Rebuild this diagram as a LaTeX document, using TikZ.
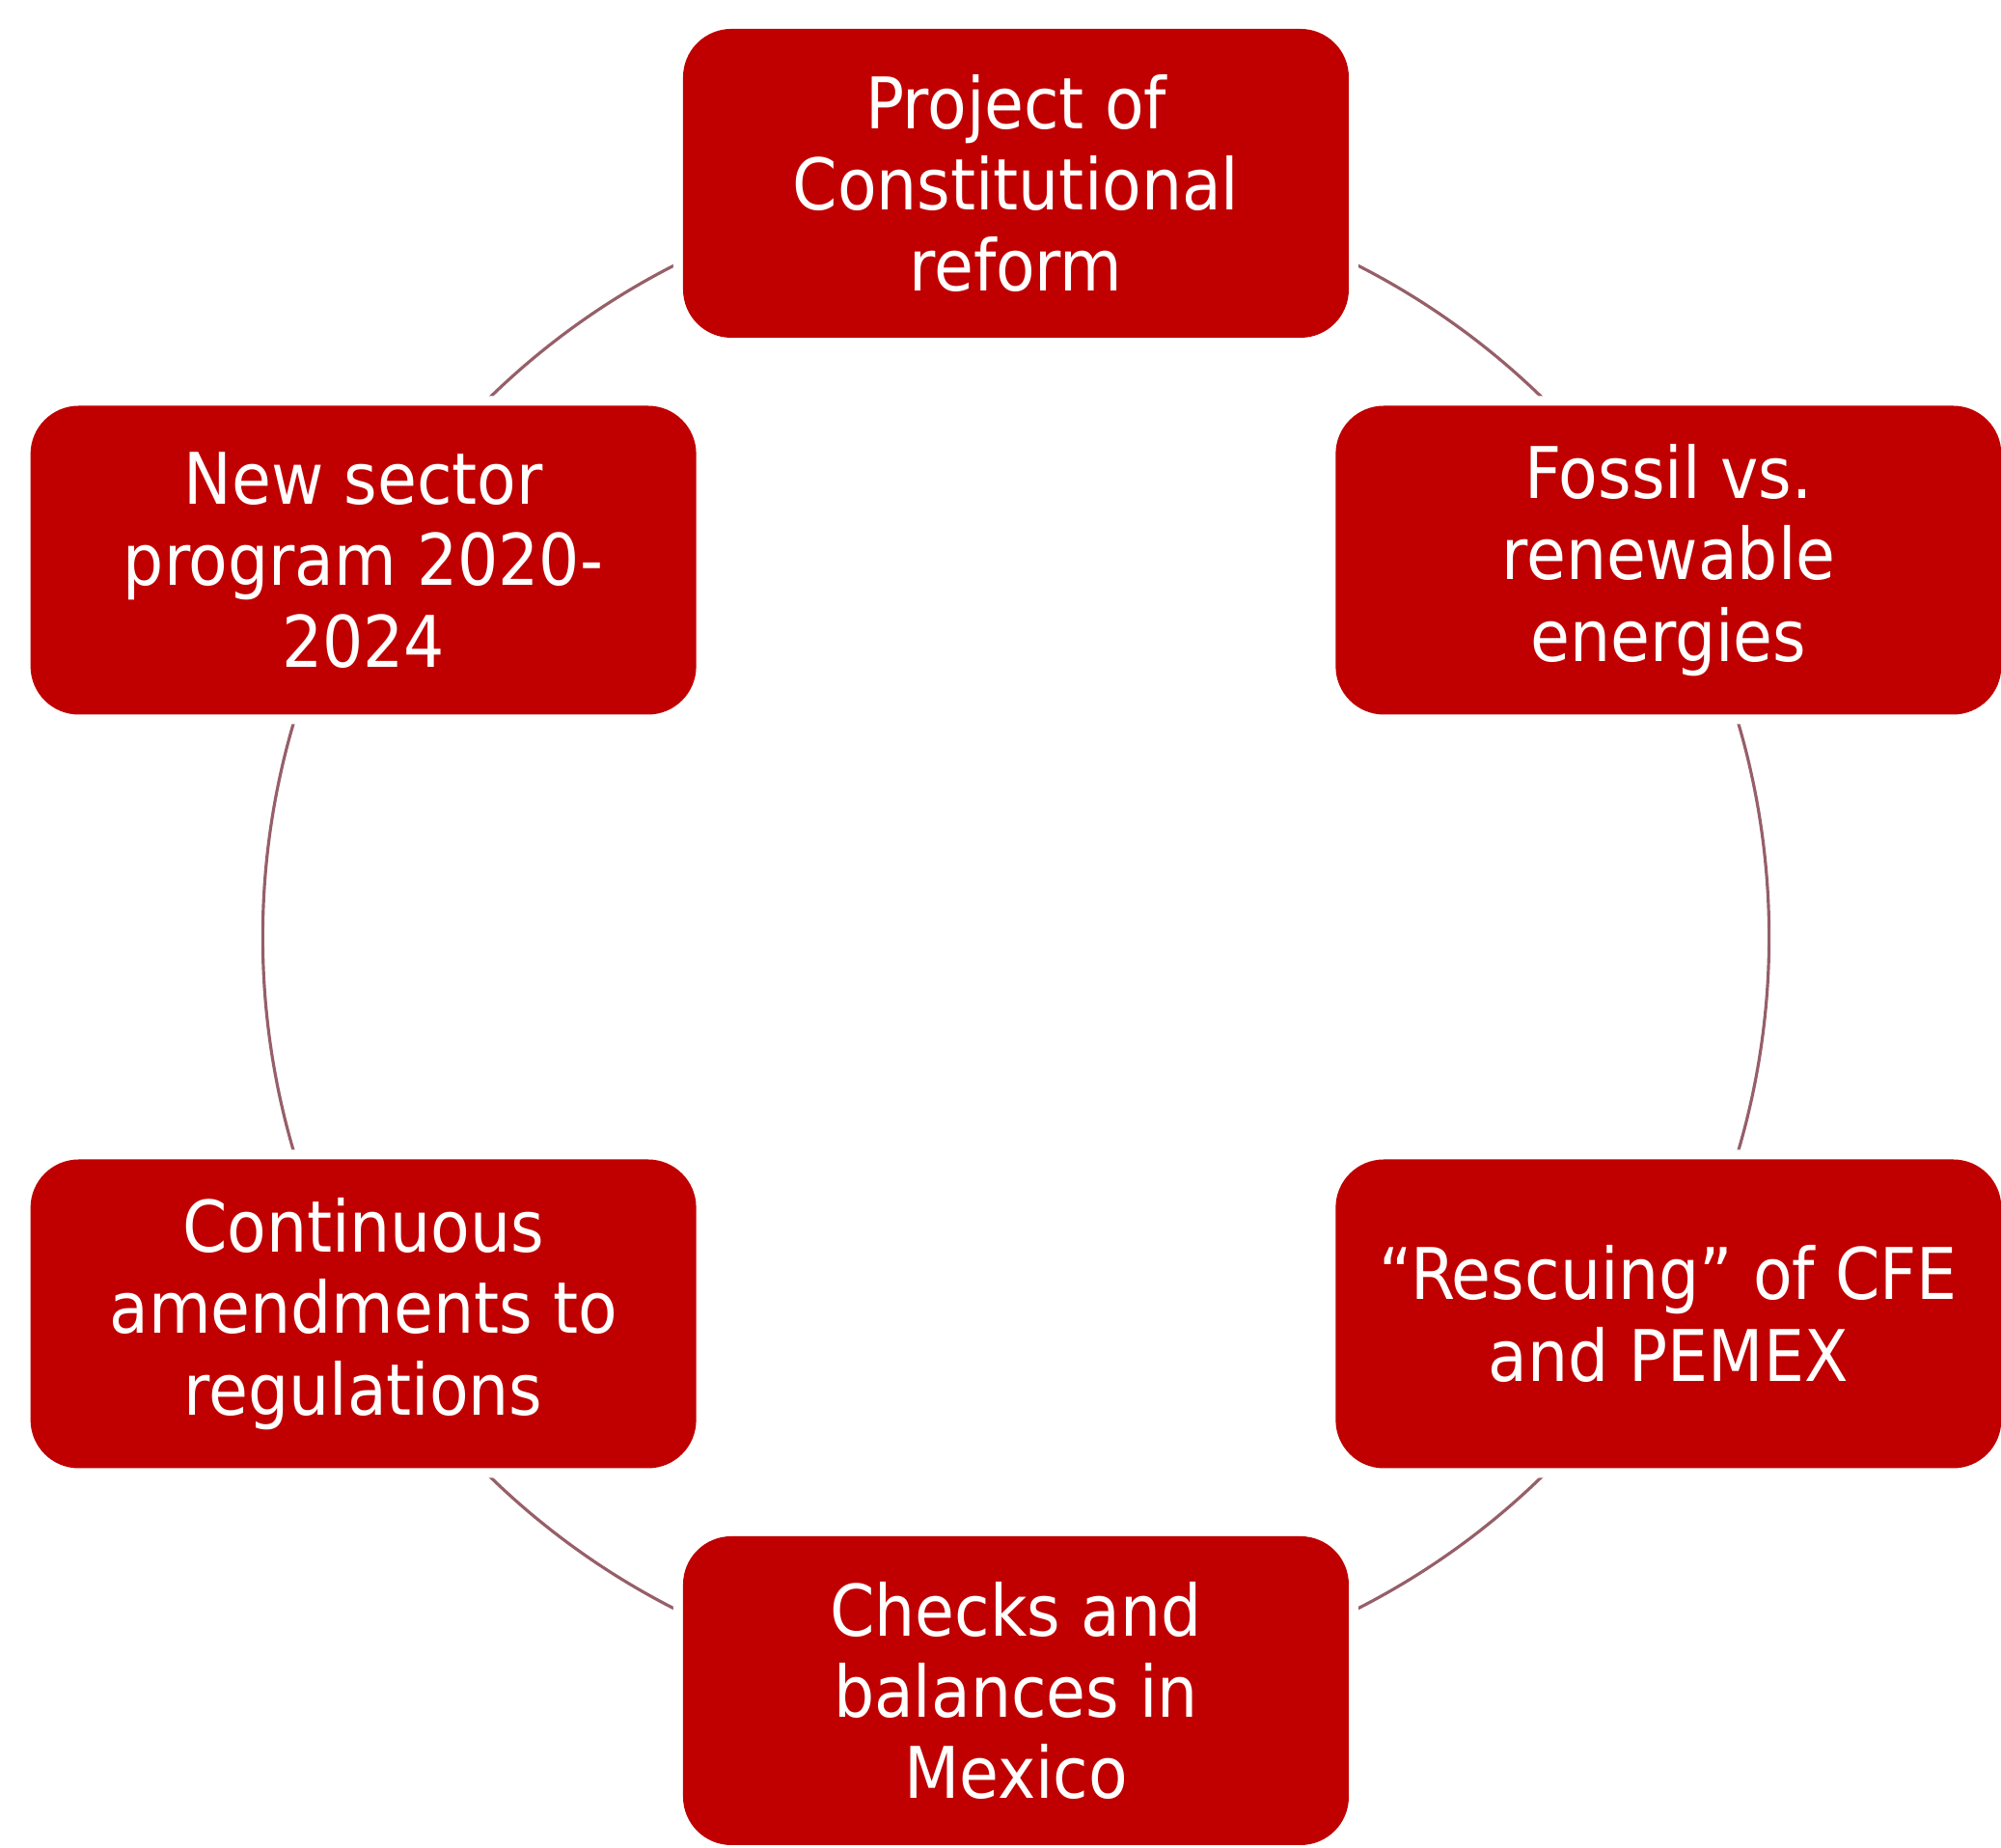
\documentclass[tikz,border=0pt]{standalone}
\usepackage{fontspec}
\setmainfont{DejaVu Sans Condensed}
\usetikzlibrary{backgrounds}
\definecolor{boxred}{RGB}{192,0,0}
\definecolor{ringline}{RGB}{150,95,105}

\begin{document}
\begin{tikzpicture}[
    box/.style={fill=boxred, text=white, rounded corners=0.5cm,
      minimum width=6.9cm, minimum height=3.2cm, inner sep=0pt, align=center,
      font=\fontsize{21}{24}\selectfont,
      preaction={draw=white, line width=0.2cm}},
    link/.style={draw=ringline, line width=0.9pt, bend left=30, looseness=0.913}]
    \useasboundingbox (-10.53,-9.44) rectangle (10.21,9.71);

    \node[box] (reform)  at (90:7.81)  {Project of\\Constitutional\\reform};
    \node[box] (fossil)  at (30:7.81)  {Fossil vs.\\renewable\\energies};
    \node[box] (rescue)  at (-30:7.81) {“Rescuing” of CFE\\and PEMEX};
    \node[box] (checks)  at (-90:7.81) {Checks and\\balances in\\Mexico};
    \node[box] (amend)   at (210:7.81) {Continuous\\amendments to\\regulations};
    \node[box] (program) at (150:7.81) {New sector\\program 2020-\\2024};

    \begin{scope}[on background layer]
      \draw[link] (reform.center)  to (fossil.center);
      \draw[link] (fossil.center)  to (rescue.center);
      \draw[link] (rescue.center)  to (checks.center);
      \draw[link] (checks.center)  to (amend.center);
      \draw[link] (amend.center)   to (program.center);
      \draw[link] (program.center) to (reform.center);
    \end{scope}
\end{tikzpicture}
\end{document}
